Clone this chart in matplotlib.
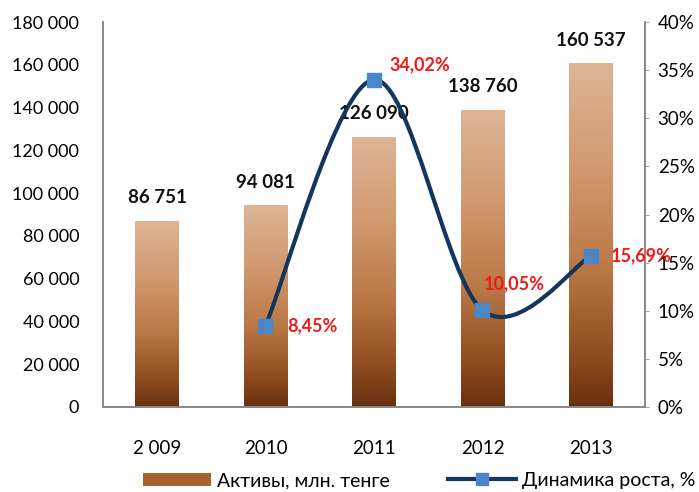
import numpy as np
import matplotlib
matplotlib.use("Agg")
import matplotlib.pyplot as plt
from matplotlib.path import Path
from matplotlib.patches import PathPatch, Patch
from matplotlib.lines import Line2D
from matplotlib.colors import LinearSegmentedColormap
from matplotlib.ticker import FuncFormatter

# data
years = ["2 009", "2010", "2011", "2012", "2013"]
assets = [86751, 94081, 126090, 138760, 160537]
asset_labels = ["86 751", "94 081", "126 090", "138 760", "160 537"]
growth_idx = [1, 2, 3, 4]
growth = [8.45, 34.02, 10.05, 15.69]
growth_labels = ["8,45%", "34,02%", "10,05%", "15,69%"]

plt.rcParams['font.family'] = ['Lato', 'DejaVu Sans']

fig = plt.figure(figsize=(6.99, 4.92), dpi=100)
ax = fig.add_axes([0.147, 0.173, 0.776, 0.782])
ax2 = ax.twinx()

# gradient bars
cmap = LinearSegmentedColormap.from_list(
    "brown", [(0.0, "#68300F"), (0.15, "#8F4C1F"), (0.4, "#BA7846"),
              (0.7, "#D29A70"), (1.0, "#DDB596")])
grad = np.linspace(0, 1, 256).reshape(-1, 1)
width = 0.4
x = np.arange(len(years))
for xi, v in zip(x, assets):
    ax.imshow(grad, cmap=cmap, origin="lower", aspect="auto",
              extent=[xi - width / 2, xi + width / 2, 0, v], zorder=2)
for xi, v, lab in zip(x, assets, asset_labels):
    ax.text(xi, v + 7000, lab, ha="center", va="bottom", fontsize=13.5,
            fontweight="bold", color="#111111", zorder=3)

ax.set_xlim(-0.5, len(years) - 0.5)
ax.set_ylim(0, 180000)
ax.set_yticks(np.arange(0, 180001, 20000))
ax.yaxis.set_major_formatter(FuncFormatter(
    lambda v, p: f"{int(v):,}".replace(",", " ")))
ax.set_xticks(x)
ax.set_xticklabels(years)
ax.tick_params(axis="y", length=0, pad=17, labelsize=13)
ax.tick_params(axis="x", length=0, pad=24, labelsize=13.5)

# smooth line (Excel-like bezier through the points)
pts = list(zip(growth_idx, growth))
verts = [pts[0]]
codes = [Path.MOVETO]
for i in range(len(pts) - 1):
    p0 = np.array(pts[max(i - 1, 0)])
    p1 = np.array(pts[i])
    p2 = np.array(pts[i + 1])
    p3 = np.array(pts[min(i + 2, len(pts) - 1)])
    c1 = p1 + (p2 - p0) / 6
    c2 = p2 - (p3 - p1) / 6
    verts += [tuple(c1), tuple(c2), tuple(p2)]
    codes += [Path.CURVE4] * 3
ax2.add_patch(PathPatch(Path(verts, codes), fill=False, edgecolor="#14365C",
                        lw=3, zorder=4))
ax2.plot(growth_idx, growth, ls="none", marker="s", ms=10, color="#4A86C8",
         zorder=5)
offsets = [(16, 0, "left"), (11, 11, "left"), (23, 19, "center"), (14, 0, "left")]
for xi, v, lab, (dx, dy, ha) in zip(growth_idx, growth, growth_labels, offsets):
    ax2.annotate(lab, (xi, v), xytext=(dx, dy), textcoords="offset points",
                 ha=ha, va="center", fontsize=13, fontweight="bold",
                 color="#F01A1A", zorder=6)

ax2.set_ylim(0, 40)
ax2.set_yticks(np.arange(0, 41, 5))
ax2.yaxis.set_major_formatter(FuncFormatter(lambda v, p: f"{int(v)}%"))
ax2.tick_params(axis="y", length=3, color="#AAAAAA", pad=6, labelsize=13.5)

for a in (ax, ax2):
    a.spines["top"].set_visible(False)
    for s in ("left", "right", "bottom"):
        a.spines[s].set_color("#888888")
        a.spines[s].set_linewidth(1.2)

handles = [Patch(facecolor="#A8632F", edgecolor="none"),
           Line2D([], [], color="#14365C", lw=3, marker="s", ms=8,
                  markerfacecolor="#4A86C8", markeredgecolor="#4A86C8")]
fig.legend(handles, ["Активы, млн. тенге", "Динамика роста, %"],
           loc="lower center", bbox_to_anchor=(0.6, -0.03), ncol=2,
           frameon=False, fontsize=14, handlelength=3.5, columnspacing=3,
           handletextpad=0.3)

fig.savefig("out.png", dpi=100)
